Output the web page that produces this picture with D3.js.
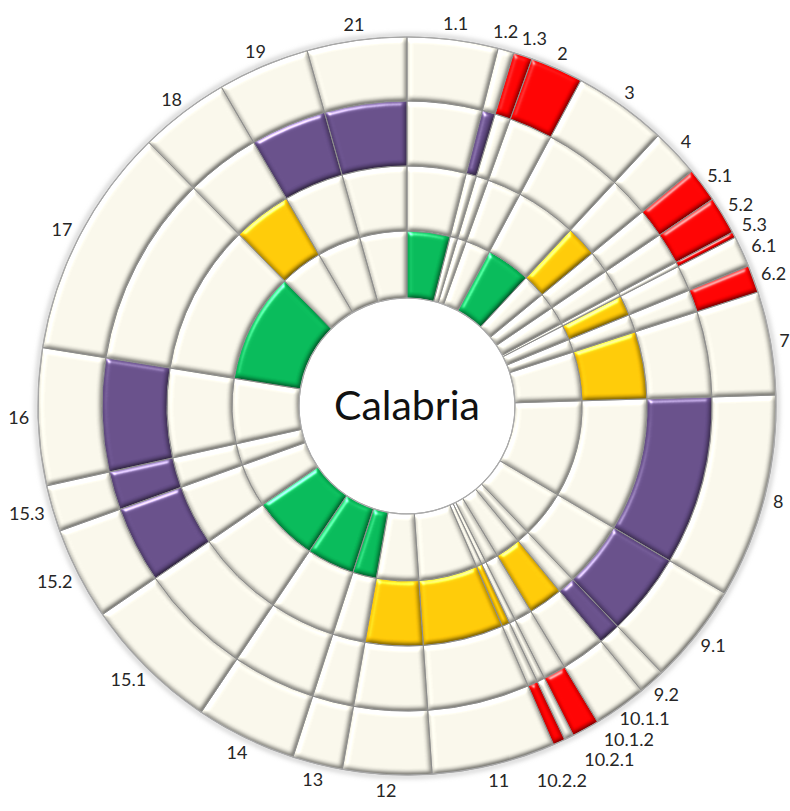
<!DOCTYPE html>
<html>
<head>
<meta charset="utf-8">
<script src="https://cdn.jsdelivr.net/npm/d3@7"></script>
<style>
  body { margin: 0; background: #fff; }
  #container { width: 790px; height: 811px; }
  svg text { font-family: Lato, "Open Sans", sans-serif; fill: #262626; }
</style>
</head>
<body>
<div id="container"></div>
<script>
// categories, clockwise from 12 o'clock
var categories = ["1.1","1.2","1.3","2","3","4","5.1","5.2","5.3","6.1","6.2","7","8","9.1","9.2",
  "10.1.1","10.1.2","10.2.1","10.2.2","11","12","13","14","15.1","15.2","15.3","16","17","18","19","21"];

// share of the circle taken by each category (in degrees)
var shares = [14.3,2.5,3.0,8.3,14.8,7.6,5.4,6.0,0.9,4.9,4.3,16.3,32.2,15.8,4.2,
  8.4,4.3,1.5,1.9,19.5,14.0,7.9,15.9,21.7,14.6,7.3,21.6,36.5,14.2,14.5,15.7];

// categories that are filled in each ring, inner to outer
var ringGreen  = ["1.1","3","13","14","15.1","17"];
var ringYellow = ["4","6.1","7","10.1.1","10.2.2","11","12","18"];
var ringPurple = ["1.2","8","9.1","9.2","15.2","15.3","16","19","21"];
var ringRed    = ["1.3","2","5.1","5.2","5.3","6.2","10.1.2","10.2.2"];

var centerTitle = "Calabria";

var rings = [
  {members: ringGreen,  color: "#05b857"},
  {members: ringYellow, color: "#ffc805"},
  {members: ringPurple, color: "#654d88"},
  {members: ringRed,    color: "#ff0000"}
];
var cream = "#f6f4e8";

// layout
var width = 790, height = 811;
var cx = 407, cy = 406;
var radii = [108, 175, 240, 305, 369];
var fontSize = 18;

var svg = d3.select("#container").append("svg")
  .attr("width", width).attr("height", height);

var defs = svg.append("defs");

// bevel look for each cell
var f = defs.append("filter").attr("id", "bevel")
  .attr("x", "-10%").attr("y", "-10%").attr("width", "120%").attr("height", "120%")
  .attr("color-interpolation-filters", "sRGB");
f.append("feGaussianBlur").attr("in", "SourceAlpha").attr("stdDeviation", 2.8).attr("result", "blur");
var diff = f.append("feDiffuseLighting").attr("in", "blur").attr("surfaceScale", 2.6)
  .attr("diffuseConstant", 1.1).attr("lighting-color", "#fff").attr("result", "diff");
diff.append("feDistantLight").attr("azimuth", 240).attr("elevation", 65);
f.append("feComposite").attr("in", "SourceGraphic").attr("in2", "diff")
  .attr("operator", "arithmetic").attr("k1", 1).attr("k2", 0).attr("k3", 0).attr("k4", 0).attr("result", "lit");
var spec = f.append("feSpecularLighting").attr("in", "blur").attr("surfaceScale", 3.2)
  .attr("specularConstant", 0.8).attr("specularExponent", 24).attr("lighting-color", "#fff").attr("result", "spec");
spec.append("feDistantLight").attr("azimuth", 240).attr("elevation", 30);
f.append("feComposite").attr("in", "spec").attr("in2", "SourceAlpha").attr("operator", "in").attr("result", "specIn");
f.append("feComposite").attr("in", "lit").attr("in2", "specIn")
  .attr("operator", "arithmetic").attr("k1", 0).attr("k2", 1).attr("k3", 0.85).attr("k4", 0).attr("result", "out");
f.append("feComposite").attr("in", "out").attr("in2", "SourceAlpha").attr("operator", "in");

// soft shadow round the whole disc
var sh = defs.append("filter").attr("id", "halo").attr("x", "-10%").attr("y", "-10%").attr("width", "120%").attr("height", "120%");
sh.append("feGaussianBlur").attr("stdDeviation", 2.5);

var g = svg.append("g").attr("transform", "translate(" + cx + "," + cy + ")");

g.append("circle").attr("r", radii[4] + 1.5)
  .attr("fill", "none").attr("stroke", "#bdbdbd").attr("stroke-width", 3)
  .attr("filter", "url(#halo)");

var pie = d3.pie().sort(null).value(function(d) { return d; });
var slices = pie(shares);

// build cells
var cells = [];
rings.forEach(function(ring, ri) {
  slices.forEach(function(s, i) {
    cells.push({
      startAngle: s.startAngle, endAngle: s.endAngle,
      inner: radii[ri], outer: radii[ri + 1],
      fill: ring.members.indexOf(categories[i]) >= 0 ? ring.color : cream
    });
  });
});

var arc = d3.arc()
  .innerRadius(function(d) { return d.inner; })
  .outerRadius(function(d) { return d.outer; });

g.append("g").selectAll("path")
  .data(cells).enter().append("path")
  .attr("d", arc)
  .attr("fill", function(d) { return d.fill; })
  .attr("filter", "url(#bevel)");

// grooves between cells
g.append("g").selectAll("path")
  .data(cells).enter().append("path")
  .attr("d", arc)
  .attr("fill", "none")
  .attr("stroke", "#8a8a88")
  .attr("stroke-width", 1)
  .attr("stroke-opacity", 0.85);

g.append("circle").attr("r", radii[0]).attr("fill", "none")
  .attr("stroke", "#ababab").attr("stroke-width", 1.2);
g.append("circle").attr("r", radii[4]).attr("fill", "none")
  .attr("stroke", "#a8a8a8").attr("stroke-width", 1.2);

// centre title
g.append("text")
  .attr("text-anchor", "middle")
  .attr("dy", "0.35em")
  .style("font-size", "41px")
  .style("fill", "#111")
  .text(centerTitle);

// category labels outside the rings
var labelG = g.append("g");
var labels = slices.map(function(s, i) {
  return {text: categories[i], a: (s.startAngle + s.endAngle) / 2, dr: 0};
});
var texts = labelG.selectAll("text").data(labels).enter().append("text")
  .attr("text-anchor", "middle")
  .attr("dy", "0.36em")
  .style("font-size", fontSize + "px")
  .text(function(d) { return d.text; });
texts.each(function(d) { d.w = this.getComputedTextLength(); d.h = fontSize * 0.8; });

var labelR = radii[4] + 9;
function place(d) {
  var r = labelR + d.dr;
  d.x = r * Math.sin(d.a) + d.w / 2 * Math.sin(d.a);
  d.y = -r * Math.cos(d.a) - d.h / 2 * Math.cos(d.a);
}
function overlaps(p, q) {
  return Math.abs(p.x - q.x) < (p.w + q.w) / 2 + 3 && Math.abs(p.y - q.y) < (p.h + q.h) / 2 + 6;
}
// spread crowded labels: a little round the circle and a little outward
labels.forEach(place);
for (var it = 0; it < 2000; it++) {
  var moved = false;
  for (var i = 0; i < labels.length; i++) {
    for (var j = i + 1; j < Math.min(labels.length, i + 4); j++) {
      var p = labels[i], q = labels[j];
      if (overlaps(p, q)) {
        p.a -= 0.0011; q.a += 0.0006;
        if (p.dr < 16) p.dr += 0.12;
        if (q.dr < 26) q.dr += 0.22;
        place(p); place(q);
        moved = true;
      }
    }
  }
  if (!moved) break;
}
texts.attr("x", function(d) { return d.x; }).attr("y", function(d) { return d.y; });
</script>
</body>
</html>
